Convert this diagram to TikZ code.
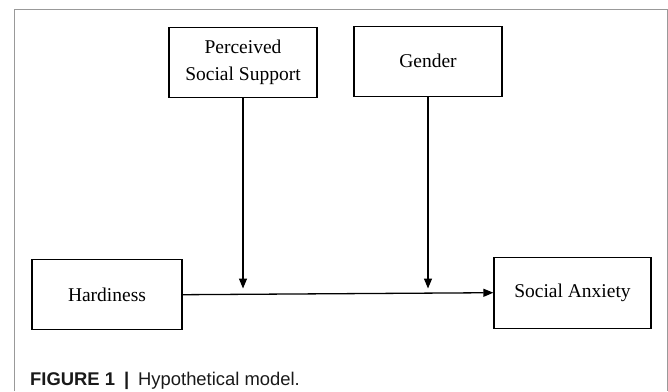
\documentclass[tikz,border=0pt]{standalone}
\usepackage{fontspec}
\setmainfont{Liberation Serif}
\newfontfamily\capfont{Liberation Sans}
\usepackage{tikz}
\usetikzlibrary{arrows.meta}
\tikzset{>={Triangle[width=8pt,length=10pt]}}

\begin{document}
\begin{tikzpicture}[x=1pt, y=-1pt,
  varbox/.style={draw, line width=1.3pt, align=center, inner sep=0pt,
    minimum width=148pt, minimum height=70pt,
    font=\fontsize{19.5}{27}\selectfont},
  link/.style={->, line width=1.3pt}]

  \useasboundingbox (0,0) rectangle (668,391);

  %% frame
  \draw[black!40, line width=1pt] (14,391) -- (14,9.5) -- (667,9.5) -- (667,391);

  \node[varbox] (pss) at (243,62.8) {Perceived\\Social Support};
  \node[varbox] (gen) at (428,61.3) {Gender};
  \node[varbox, minimum width=150pt] (hard) at (107,294.7) {Hardiness};
  \node[varbox, minimum width=157pt, minimum height=71pt] (anx) at (572.5,292.7) {Social Anxiety};

  \coordinate (pssEnd) at (243,288.5);
  \coordinate (genEnd) at (428,288.5);

  \draw[link] (hard.east) -- (anx.west); %% hardiness -> anxiety
  \draw[link] (pss.south) -- (pssEnd); %% moderator 1
  \draw[link] (gen.south) -- (genEnd); %% moderator 2

  %% caption
  \node[anchor=base west, inner sep=0pt, text=black!90,
    font=\capfont\fontsize{18.4}{22}\selectfont] (cap) at (30,385)
    {\textbf{FIGURE 1}\hspace{9pt}\textbf{|}\hspace{9pt}Hypothetical model.};

\end{tikzpicture}
\end{document}
